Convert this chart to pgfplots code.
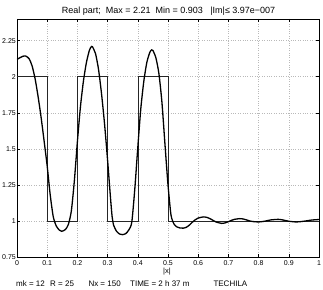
\documentclass[border=0pt]{standalone}
\usepackage{pgfplots}
\pgfplotsset{compat=1.18}
\usepackage{fontspec}
\setmainfont{Liberation Sans}
\begin{document}
\begin{tikzpicture}
\begin{axis}[
  at={(0,0)}, anchor=south west,
  width=302pt, height=238pt, scale only axis,
  xmin=0, xmax=1, ymin=0.75, ymax=2.4,
  xtick={0,0.1,...,1.01},
  xticklabels={0,0.1,0.2,0.3,0.4,0.5,0.6,0.7,0.8,0.9,1},
  ytick={0.75,1,1.25,1.5,1.75,2,2.25},
  yticklabels={0.75,1,1.25,1.5,1.75,2,2.25},
  tick align=inside, major tick length=3pt,
  xtick pos=both, ytick pos=both,
  grid=major,
  grid style={dotted, gray!55, line width=0.4pt},
  axis line style={black, line width=0.5pt},
  tick style={black, line width=0.4pt},
  /pgf/number format/assume math mode=true,
  ticklabel style={font=\fontsize{7}{8}\selectfont},
  xticklabel style={inner sep=1pt, yshift=-2pt},
  yticklabel style={inner sep=1pt, xshift=0pt},
]
\addplot[black!85, line width=0.55pt] coordinates {
(0,2) (0.1,2) (0.1,1) (0.2,1) (0.2,2) (0.3,2) (0.3,1) (0.4,1) (0.4,2) (0.5,2) (0.5,1) (1,1)};
\addplot[black, line width=1.3pt, smooth, tension=0.4] coordinates {
(0,2.12) (0.01,2.132) (0.02,2.142) (0.026,2.144) (0.03,2.142) (0.04,2.125)
(0.05,2.075) (0.06,1.985) (0.07,1.86) (0.08,1.715) (0.09,1.55) (0.10,1.38)
(0.11,1.18) (0.12,1.03) (0.13,0.965) (0.14,0.937) (0.148,0.928) (0.16,0.94)
(0.17,0.975) (0.18,1.07) (0.19,1.28) (0.20,1.55) (0.21,1.79) (0.22,1.97)
(0.23,2.10) (0.24,2.185) (0.247,2.21) (0.25,2.207) (0.26,2.16) (0.27,2.05)
(0.28,1.88) (0.29,1.67) (0.30,1.42) (0.31,1.15) (0.315,1.03) (0.32,0.97)
(0.33,0.927) (0.34,0.909) (0.349,0.905) (0.36,0.912) (0.37,0.937) (0.38,0.99)
(0.39,1.22) (0.40,1.51) (0.41,1.78) (0.42,1.97) (0.43,2.10) (0.44,2.17)
(0.446,2.186) (0.45,2.182) (0.46,2.13) (0.47,2.02) (0.48,1.82) (0.49,1.53)
(0.50,1.25) (0.51,1.04) (0.52,0.978) (0.53,0.958) (0.54,0.951) (0.551,0.950)
(0.56,0.955) (0.57,0.97) (0.58,0.99) (0.59,1.008) (0.60,1.02) (0.617,1.028)
(0.63,1.024) (0.64,1.015) (0.65,1.003) (0.66,0.992) (0.678,0.983) (0.69,0.987)
(0.70,0.995) (0.71,1.004) (0.72,1.011) (0.738,1.016) (0.75,1.013) (0.76,1.007)
(0.77,1.0) (0.78,0.996) (0.80,0.993) (0.82,0.998) (0.84,1.007) (0.865,1.011)
(0.88,1.007) (0.90,0.998) (0.926,0.993) (0.95,0.998) (0.975,1.006) (1.0,1.01)};
\end{axis}
\node[anchor=base, font=\fontsize{9}{10}\selectfont, inner sep=0pt] at (151.5pt,243pt)
  {Real part;\ \ Max = 2.21\ \ Min = 0.903\ \ \ |Im|≤ 3.97e−007};
\node[anchor=base, font=\fontsize{7.5}{8}\selectfont, inner sep=0pt] at (150pt,-16pt) {|x|};
\node[anchor=base west, font=\fontsize{8}{9}\selectfont, inner sep=0pt] at (-1pt,-29pt) {mk = 12};
\node[anchor=base west, font=\fontsize{8}{9}\selectfont, inner sep=0pt] at (33pt,-29pt) {R = 25};
\node[anchor=base west, font=\fontsize{8}{9}\selectfont, inner sep=0pt] at (71.3pt,-29pt) {Nx = 150};
\node[anchor=base west, font=\fontsize{8}{9}\selectfont, inner sep=0pt] at (113pt,-29pt) {TIME = 2 h 37 m};
\node[anchor=base west, font=\fontsize{8}{9}\selectfont, inner sep=0pt] at (196.3pt,-29pt) {TECHILA};
\pgfresetboundingbox
\path (-17pt,-32pt) rectangle (306pt,257pt);
\end{tikzpicture}
\end{document}
